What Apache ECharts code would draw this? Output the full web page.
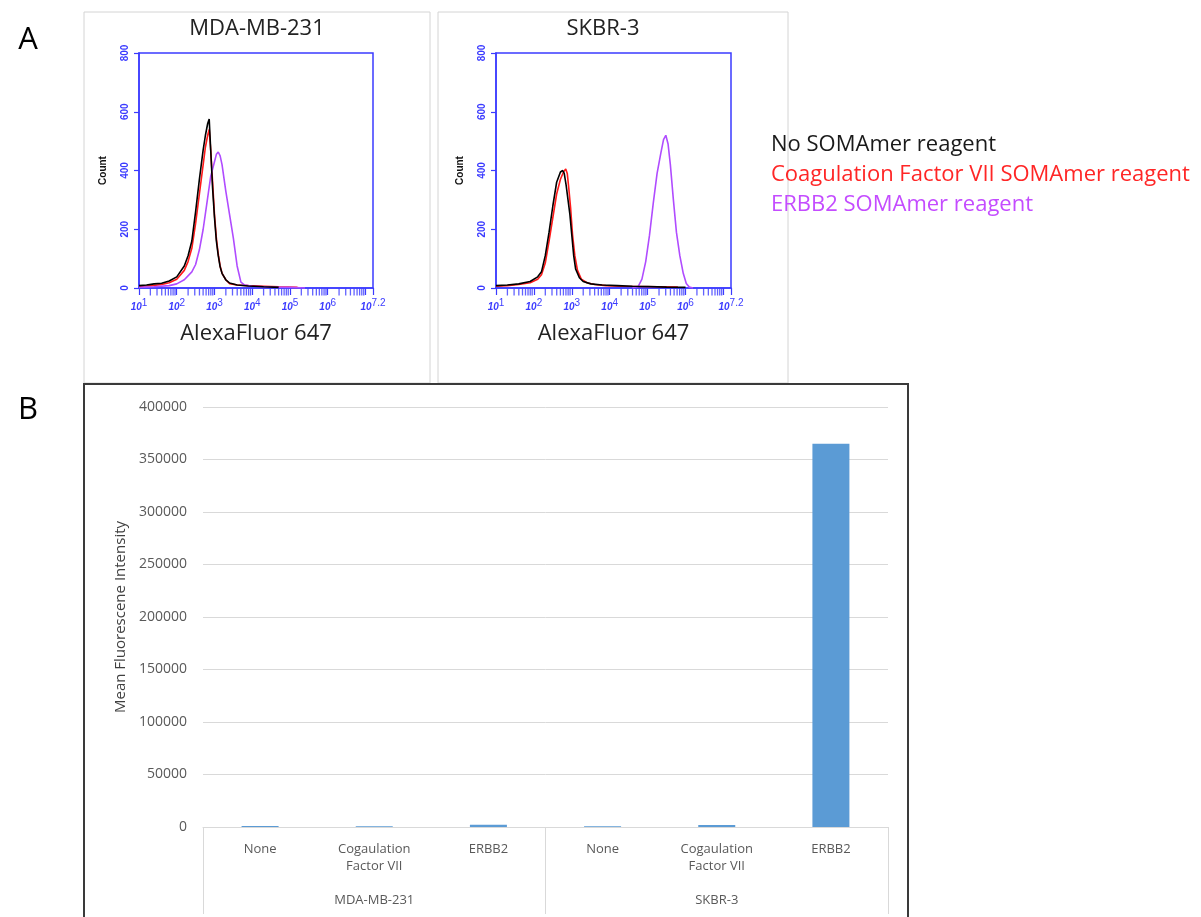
<!DOCTYPE html>
<html><head><meta charset="utf-8">
<script src="https://cdn.jsdelivr.net/npm/echarts@6/dist/echarts.min.js"></script>
<style>html,body{margin:0;padding:0;background:#fff}#c{width:1201px;height:917px}</style>
</head><body><div id="c"></div>
<script>
// ---------- Panel A: flow cytometry histograms ----------
const seriesNames = ['No SOMAmer reagent', 'Coagulation Factor VII SOMAmer reagent', 'ERBB2 SOMAmer reagent'];
const lineColors = ['#000000', '#ff1a1a', '#b04cff'];
const legendColors = ['#1a1a1a', '#ff2626', '#c44cff'];
const panelTitles = ['MDA-MB-231', 'SKBR-3'];

// x = log10(AlexaFluor 647 intensity), y = count
const mdaNoneX = [1.0,1.2,1.4,1.6,1.8,2.0,2.2,2.3,2.4,2.5,2.6,2.7,2.76,2.82,2.86,2.9,2.95,3.0,3.05,3.1,3.15,3.2,3.3,3.4,3.6,3.9,4.3,4.7];
const mdaNoneY = [8,10,14,16,24,38,75,110,160,260,370,470,520,560,575,470,340,240,160,110,72,50,28,17,10,7,4,2];
const mdaF7X = [1.0,1.2,1.4,1.6,1.8,2.0,2.2,2.3,2.4,2.5,2.6,2.7,2.76,2.82,2.86,2.9,2.95,3.0,3.05,3.1,3.15,3.2,3.3,3.4,3.6,3.9,4.3,4.7,5.2];
const mdaF7Y = [5,7,9,12,18,30,60,90,135,220,320,420,480,520,540,470,360,250,170,115,75,50,28,15,10,8,6,4,2];
const mdaErbbX = [1.0,1.4,1.8,2.0,2.2,2.4,2.5,2.6,2.7,2.8,2.9,3.0,3.05,3.1,3.15,3.2,3.3,3.4,3.5,3.6,3.7,3.8,4.0,4.5,5.0,5.4];
const mdaErbbY = [2,4,8,14,28,55,80,130,200,290,380,430,455,463,450,420,330,250,170,75,20,10,6,3,2,0];

const skNoneX = [1.0,1.3,1.6,1.9,2.1,2.2,2.3,2.4,2.5,2.6,2.7,2.76,2.8,2.85,2.9,2.95,3.0,3.05,3.1,3.2,3.3,3.5,3.8,4.2,4.6,5.0,5.5,6.0];
const skNoneY = [8,10,14,22,38,55,110,190,280,360,395,400,390,350,300,250,180,110,65,35,22,14,10,8,6,5,3,2];
const skF7X = [1.0,1.3,1.6,1.9,2.1,2.2,2.3,2.4,2.5,2.6,2.7,2.78,2.84,2.88,2.92,2.97,3.02,3.08,3.15,3.25,3.4,3.6,3.9,4.3,4.8,5.3,5.8];
const skF7Y = [6,8,12,18,30,45,85,160,240,320,370,395,405,390,340,270,180,110,60,30,18,12,8,6,5,4,3];
const skErbbX = [4.6,4.75,4.85,4.95,5.05,5.15,5.25,5.35,5.42,5.48,5.54,5.6,5.68,5.76,5.85,5.94,6.02,6.1,6.2];
const skErbbY = [0,5,30,90,180,290,390,460,505,520,490,420,300,190,110,50,15,3,0];

const histXMin = 1, histXMax = 7.2;           // decades (10^1 .. 10^7.2)
const histYMax = 800, histYStep = 200;
const minorMultipliers = [2,3,4,5,6,7,8,9];   // log-scale minor ticks per decade

// ---------- Panel B: bar chart ----------
const barCategories = ['None', 'Cogaulation\nFactor VII', 'ERBB2', 'None', 'Cogaulation\nFactor VII', 'ERBB2'];
const barGroups = ['MDA-MB-231', 'SKBR-3'];
const barValues = [900, 800, 2200, 700, 1800, 365000];
const barYMax = 400000, barYStep = 50000;

// ---------- build ----------
const zip = (xs, ys) => xs.map((x, i) => [x, ys[i]]);
const minorTicks = [];
for (let d = Math.floor(histXMin); d < histXMax; d++) {
  minorMultipliers.forEach(k => { const v = d + Math.log10(k); if (v <= histXMax) minorTicks.push([v, 0]); });
}
const BLUE = '#3b3bff';
const fmtExp = v => Number.isInteger(v) ? String(v) : v.toFixed(1);

function histX(gi) {
  return {
    type: 'value', gridIndex: gi, min: histXMin, max: histXMax, interval: 1,
    name: 'AlexaFluor 647', nameLocation: 'middle', nameGap: 35,
    nameTextStyle: { fontFamily: 'Open Sans', fontSize: 22, color: '#222' },
    axisLine: { show: true, lineStyle: { color: BLUE, width: 1.5 } },
    axisTick: { show: true, inside: false, length: 7, lineStyle: { color: BLUE, width: 1.2 } },
    splitLine: { show: false },
    axisLabel: {
      margin: 10, showMinLabel: true, showMaxLabel: true,
      formatter: v => Math.abs(v - 7) < 1e-9 ? '' : '{b|10}{s|' + fmtExp(v) + '}',
      rich: {
        b: { fontFamily: 'Liberation Sans', fontSize: 10, fontStyle: 'italic', fontWeight: 'bold', color: BLUE, padding: [4, 0, 0, 0] },
        s: { fontFamily: 'Liberation Sans', fontSize: 10, color: BLUE, padding: [0, 0, 4, 0] }
      }
    }
  };
}
function histY(gi) {
  return {
    type: 'value', gridIndex: gi, min: 0, max: histYMax, interval: histYStep,
    name: 'Count', nameLocation: 'middle', nameGap: 31,
    nameTextStyle: { fontFamily: 'Liberation Sans', fontSize: 10, fontWeight: 'bold', color: '#111' },
    axisLine: { show: true, lineStyle: { color: BLUE, width: 1.5 } },
    axisTick: { show: true, length: 5, lineStyle: { color: BLUE, width: 1.2 } },
    splitLine: { show: false },
    axisLabel: { rotate: 90, margin: 9, fontFamily: 'Liberation Sans', fontSize: 10, fontWeight: 'bold', color: BLUE }
  };
}
function histLines(ai, sets) {
  return sets.map((s, i) => ({
    type: 'line', name: seriesNames[i], xAxisIndex: ai, yAxisIndex: ai,
    data: zip(s[0], s[1]), showSymbol: false, silent: true, z: 3 + (i === 0 ? 1 : 0),
    lineStyle: { color: lineColors[i], width: 1.6 }, itemStyle: { color: lineColors[i] }
  }));
}
function minorSeries(ai) {
  return { type: 'scatter', xAxisIndex: ai, yAxisIndex: ai, data: minorTicks, symbol: 'rect',
    symbolSize: [1.3, 7], symbolOffset: [0, 4], clip: false, silent: true,
    itemStyle: { color: BLUE } };
}

const option = {
  animation: false,
  backgroundColor: '#fff',
  grid: [
    { left: 139, top: 53, width: 234, height: 235, show: true, borderColor: BLUE, borderWidth: 1.5, backgroundColor: 'transparent' },
    { left: 496, top: 53, width: 235, height: 235, show: true, borderColor: BLUE, borderWidth: 1.5, backgroundColor: 'transparent' },
    { left: 203, right: 313, top: 407, bottom: 90 }
  ],
  legend: {
    orient: 'vertical', left: 761, top: 127, icon: 'none', itemWidth: 0, itemHeight: 0, itemGap: 4,
    selectedMode: false,
    textStyle: { fontFamily: 'Open Sans', fontSize: 22, lineHeight: 26 },
    data: seriesNames.map((n, i) => ({ name: n, textStyle: { color: legendColors[i] } }))
  },
  xAxis: [
    histX(0), histX(1),
    { type: 'category', gridIndex: 2, data: barCategories,
      axisLine: { show: true, lineStyle: { color: '#d9d9d9' } }, axisTick: { show: false },
      axisLabel: { interval: 0, margin: 14, fontFamily: 'Open Sans', fontSize: 13, lineHeight: 17, color: '#595959' } },
    { type: 'category', gridIndex: 2, data: barGroups, position: 'bottom',
      axisLine: { show: false },
      axisTick: { show: true, interval: 0, length: 87, lineStyle: { color: '#d9d9d9' } },
      axisLabel: { interval: 0, margin: 67, fontFamily: 'Open Sans', fontSize: 13, color: '#595959' } }
  ],
  yAxis: [
    histY(0), histY(1),
    { type: 'value', gridIndex: 2, min: 0, max: barYMax, interval: barYStep,
      name: 'Mean Fluorescene Intensity', nameLocation: 'middle', nameGap: 75,
      nameTextStyle: { fontFamily: 'Open Sans', fontSize: 15, color: '#404040' },
      axisLine: { show: false }, axisTick: { show: false },
      splitLine: { lineStyle: { color: '#d9d9d9' } },
      axisLabel: { margin: 16, fontFamily: 'Open Sans', fontSize: 14, color: '#595959', formatter: v => String(v) } }
  ],
  series: [
    ...histLines(0, [[mdaNoneX, mdaNoneY], [mdaF7X, mdaF7Y], [mdaErbbX, mdaErbbY]]),
    ...histLines(1, [[skNoneX, skNoneY], [skF7X, skF7Y], [skErbbX, skErbbY]]),
    minorSeries(0), minorSeries(1),
    { type: 'bar', xAxisIndex: 2, yAxisIndex: 2, data: barValues, barWidth: 37,
      itemStyle: { color: '#5b9bd5' }, silent: true }
  ],
  graphic: [
    { type: 'rect', shape: { x: 84, y: 12, width: 346, height: 371 }, style: { fill: 'none', stroke: '#d4d4d4', lineWidth: 1 }, silent: true },
    { type: 'rect', shape: { x: 438, y: 12, width: 350, height: 371 }, style: { fill: 'none', stroke: '#d4d4d4', lineWidth: 1 }, silent: true },
    { type: 'rect', shape: { x: 84, y: 384, width: 824, height: 560 }, style: { fill: 'none', stroke: '#3a3a3a', lineWidth: 2 }, silent: true },
    { type: 'text', x: 28, y: 40, style: { text: 'A', fontFamily: 'Open Sans', fontSize: 31, fill: '#000', textAlign: 'center', textVerticalAlign: 'middle' } },
    { type: 'text', x: 28, y: 410, style: { text: 'B', fontFamily: 'Open Sans', fontSize: 31, fill: '#000', textAlign: 'center', textVerticalAlign: 'middle' } },
    { type: 'text', x: 257, y: 29, style: { text: panelTitles[0], fontFamily: 'Open Sans', fontSize: 22, fill: '#222', textAlign: 'center', textVerticalAlign: 'middle' } },
    { type: 'text', x: 603, y: 29, style: { text: panelTitles[1], fontFamily: 'Open Sans', fontSize: 22, fill: '#222', textAlign: 'center', textVerticalAlign: 'middle' } }
  ]
};
const chart = echarts.init(document.getElementById('c'), null, { renderer: 'canvas' });
chart.setOption(option);
</script>
</body></html>
